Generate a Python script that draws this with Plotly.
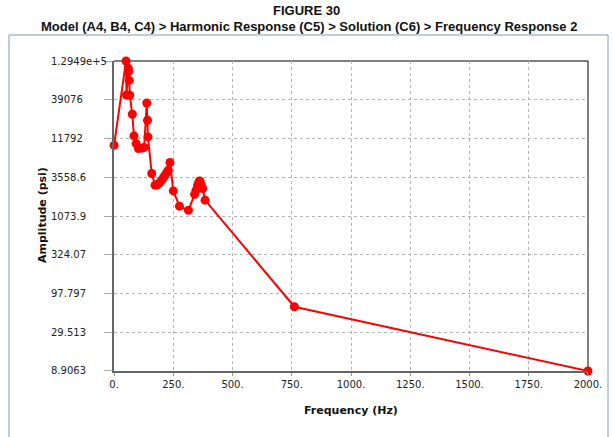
import math
import plotly.graph_objects as go

# ---- data ----
freq_hz = [0, 50.6, 52.5, 60, 62, 64, 66.5, 77, 84, 93, 103, 117, 127, 138, 141, 143,
           159, 173, 180, 187, 194, 201, 208, 215, 222, 229, 236, 250, 276, 314,
           340, 346, 352, 356, 360, 363, 368, 374, 384, 761, 2000]
amplitude_psi = [9550, 129490, 45300, 103300, 94200, 71300, 44900, 24950, 12770, 10090, 8650, 8750, 8950,
                 35400, 20740, 12390,
                 3997, 2785, 2800, 2900, 3050, 3250, 3500, 3790, 4100, 4430, 5620, 2335, 1456, 1280,
                 2100, 2387, 2750, 2937, 3170, 3150, 2800, 2515, 1752, 64.9, 8.9063]

y_tick_values = [8.9063, 29.513, 97.797, 324.07, 1073.9, 3558.6, 11792, 39076, 129490]
y_tick_labels = ["8.9063", "29.513", "97.797", "324.07", "1073.9", "3558.6", "11792", "39076", "1.2949e+5"]
x_tick_values = [0, 250, 500, 750, 1000, 1250, 1500, 1750, 2000]
x_tick_labels = ["0.", "250.", "500.", "750.", "1000.", "1250.", "1500.", "1750.", "2000."]

title_line1 = "FIGURE 30"
title_line2 = "Model (A4, B4, C4) > Harmonic Response (C5) > Solution (C6) > Frequency Response 2"
x_title = "Frequency (Hz)"
y_title = "Amplitude (psi)"

# ---- figure ----
W, H = 613, 437
L, R, T, B = 114, 25, 61, 66
pw, ph = W - L - R, H - T - B

def px_x(px):
    return (px - L) / pw

def px_y(py):
    return (H - B - py) / ph

fig = go.Figure()
fig.add_trace(go.Scatter(
    x=freq_hz, y=amplitude_psi, mode="lines+markers",
    line=dict(color="#ff0000", width=2),
    marker=dict(color="#ff0000", size=9),
    showlegend=False, cliponaxis=False,
))

tick_font = dict(family="DejaVu Sans", size=10, color="#222222")
title_font = dict(family="Liberation Sans", size=13, color="#111111")
annotations = []
for v, t in zip(y_tick_values, y_tick_labels):
    annotations.append(dict(text=t, xref="paper", x=px_x(49), xanchor="left",
                            yref="y", y=math.log10(v), yanchor="middle",
                            showarrow=False, font=tick_font))
annotations.append(dict(text="<b>" + title_line1 + "</b>", xref="paper", yref="paper",
                        x=px_x(306), y=px_y(11), xanchor="center", yanchor="middle",
                        showarrow=False, font=title_font))
annotations.append(dict(text="<b>" + title_line2 + "</b>", xref="paper", yref="paper",
                        x=px_x(309), y=px_y(26), xanchor="center", yanchor="middle",
                        showarrow=False, font=title_font))
annotations.append(dict(text="<b>" + x_title + "</b>", xref="paper", yref="paper",
                        x=px_x(351), y=px_y(411), xanchor="center", yanchor="middle",
                        showarrow=False, font=dict(family="DejaVu Sans", size=11, color="#111111")))
annotations.append(dict(text="<b>" + y_title + "</b>", xref="paper", yref="paper",
                        x=px_x(42), y=px_y(215), xanchor="center", yanchor="middle", textangle=-90,
                        showarrow=False, font=dict(family="DejaVu Sans", size=11, color="#111111")))

grid_dash = "3px,3px"
y_lo = math.log10(y_tick_values[0]) - 0.0005
y_hi = math.log10(y_tick_values[-1]) + 0.0005
fig.update_layout(
    width=W, height=H,
    margin=dict(l=L, r=R, t=T, b=B, pad=0),
    paper_bgcolor="white", plot_bgcolor="white",
    annotations=annotations,
    shapes=[dict(type="rect", xref="paper", yref="paper",
                 x0=px_x(9), x1=px_x(608), y0=px_y(35), y1=px_y(445),
                 line=dict(color="#7f9db9", width=1), layer="below")],
    xaxis=dict(range=[-0.2, 2000.2], tickvals=x_tick_values, ticktext=x_tick_labels,
               showgrid=True, gridcolor="#b4b4b4", griddash=grid_dash, gridwidth=1,
               showline=True, linecolor="#666666", linewidth=1.5, mirror=False,
               ticks="outside", ticklen=3, tickcolor="#999999",
               tickfont=tick_font, zeroline=False, fixedrange=True),
    yaxis=dict(type="log", range=[y_lo, y_hi],
               tickvals=y_tick_values, ticktext=y_tick_labels, showticklabels=False,
               showgrid=True, gridcolor="#b4b4b4", griddash=grid_dash, gridwidth=1,
               showline=True, linecolor="#666666", linewidth=1.5,
               ticks="outside", ticklen=8, tickcolor="#aaaaaa",
               zeroline=False, fixedrange=True),
)
# top and right border lines (black)
fig.add_shape(type="line", xref="paper", yref="paper", x0=0, x1=1, y0=1, y1=1,
              line=dict(color="#000000", width=1), layer="below")
fig.add_shape(type="line", xref="paper", yref="paper", x0=1, x1=1, y0=0, y1=1,
              line=dict(color="#000000", width=1), layer="below")

fig.write_html("out.html", config={"displayModeBar": False},
               post_script="document.body.style.margin='0px';document.body.style.overflow='hidden';")
